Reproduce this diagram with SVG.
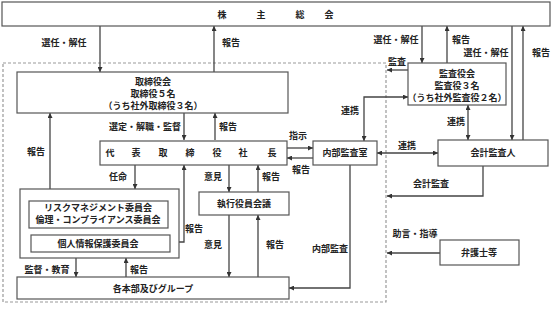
<svg xmlns="http://www.w3.org/2000/svg" width="552" height="312" viewBox="0 0 552 312">
<defs>
<style>
.box{fill:#fff;stroke:#555;stroke-width:1.2}
.ln{fill:none;stroke:#444;stroke-width:1.3}
.ar{marker-end:url(#ah)}
.ar2{marker-start:url(#ah);marker-end:url(#ah)}
.dash{fill:none;stroke:#999;stroke-width:1.2;stroke-dasharray:3 2}
text{font-family:"Noto Sans CJK JP","Noto Sans",sans-serif;font-size:9px;font-weight:bold;fill:#222;text-anchor:middle}
</style>
<marker id="ah" viewBox="0 0 6 6" refX="6" refY="3" markerWidth="5" markerHeight="5" markerUnits="userSpaceOnUse" orient="auto-start-reverse">
<path d="M0,0 L6,3 L0,6 z" fill="#333"/>
</marker>
</defs>
<rect width="552" height="312" fill="#fff"/>

<path class="dash" d="M3,63 H386 V302 H3 Z"/>

<g id="connectors">
<line class="ln ar" x1="100" y1="26" x2="100" y2="72"/>
<line class="ln ar" x1="214" y1="72" x2="214" y2="26"/>
<line class="ln ar" x1="50" y1="200" x2="50" y2="113"/>
<line class="ln ar" x1="184" y1="113" x2="184" y2="140"/>
<line class="ln ar" x1="215" y1="140" x2="215" y2="113"/>
<line class="ln ar" x1="287" y1="148" x2="313" y2="148"/>
<line class="ln ar" x1="313" y1="158" x2="287" y2="158"/>
<path class="ln ar2" d="M408,97 H364 V141"/>
<line class="ln ar" x1="408" y1="70" x2="387" y2="70"/>
<line class="ln ar" x1="422" y1="26" x2="422" y2="63"/>
<line class="ln ar" x1="447" y1="63" x2="447" y2="26"/>
<line class="ln ar" x1="512" y1="26" x2="512" y2="140"/>
<line class="ln ar" x1="523" y1="140" x2="523" y2="26"/>
<line class="ln ar2" x1="468" y1="105" x2="468" y2="140"/>
<line class="ln ar2" x1="377" y1="153" x2="438" y2="153"/>
<path class="ln ar" d="M483,166 V196 H387"/>
<line class="ln ar" x1="440" y1="253" x2="387" y2="253"/>
<path class="ln ar" d="M350,165 V288 H289"/>
<line class="ln ar" x1="135" y1="165" x2="135" y2="189"/>
<path class="ln ar" d="M170,242 H184 V165"/>
<line class="ln ar" x1="76" y1="258" x2="76" y2="277"/>
<line class="ln ar" x1="126" y1="277" x2="126" y2="258"/>
<line class="ln ar" x1="229" y1="165" x2="229" y2="192"/>
<line class="ln ar" x1="258" y1="192" x2="258" y2="165"/>
<line class="ln ar" x1="229" y1="215" x2="229" y2="277"/>
<line class="ln ar" x1="258" y1="277" x2="258" y2="215"/>

<text x="64" y="46">選任・解任</text>
<text x="231" y="46">報告</text>
<text x="36" y="155">報告</text>
<text x="145" y="130">選定・解職・監督</text>
<text x="228" y="130">報告</text>
<text x="298" y="139">指示</text>
<text x="301" y="173">報告</text>
<text x="350" y="114">連携</text>
<text x="397" y="65">監査</text>
<text x="396" y="43">選任・解任</text>
<text x="461" y="43">報告</text>
<text x="486" y="56">選任・解任</text>
<text x="541" y="56">報告</text>
<text x="456" y="125">連携</text>
<text x="407" y="149">連携</text>
<text x="431" y="187">会計監査</text>
<text x="415" y="237">助言・指導</text>
<text x="330" y="252">内部監査</text>
<text x="118" y="180">任命</text>
<text x="194" y="232">報告</text>
<text x="47" y="273">監督・教育</text>
<text x="139" y="273">報告</text>
<text x="213" y="180">意見</text>
<text x="271" y="180">報告</text>
<text x="213" y="248">意見</text>
<text x="275" y="248">報告</text>
</g>

<g id="shareholders">
<rect class="box" x="2" y="2" width="548" height="24"/>
<text x="222 261 300 329" y="18">株主総会</text>
</g>

<g id="board">
<rect class="box" x="17" y="72" width="271" height="41"/>
<text x="153" y="85">取締役会</text>
<text x="153" y="97">取締役５名</text>
<text x="153" y="109">（うち社外取締役３名）</text>
</g>

<g id="president">
<rect class="box" x="100" y="141" width="187" height="24"/>
<text x="110 136 163 190 217 243 272" y="156">代表取締役社長</text>
</g>

<g id="internal-audit">
<rect class="box" x="313" y="141" width="64" height="24"/>
<text x="345" y="156">内部監査室</text>
</g>

<g id="auditors">
<rect class="box" x="408" y="63" width="98" height="42"/>
<text x="457" y="77">監査役会</text>
<text x="457" y="89">監査役３名</text>
<text x="457" y="101">（うち社外監査役２名）</text>
</g>

<g id="accounting-auditor">
<rect class="box" x="438" y="140" width="110" height="26"/>
<text x="493" y="156">会計監査人</text>
</g>

<g id="lawyers">
<rect class="box" x="440" y="240" width="79" height="25"/>
<text x="479" y="256">弁護士等</text>
</g>

<g id="committees">
<rect class="box" x="20" y="189" width="159" height="69"/>
</g>

<g id="risk-committee">
<rect class="box" x="29" y="201" width="139" height="27"/>
<text x="98" y="211">リスクマネジメント委員会</text>
<text x="98" y="223">倫理・コンプライアンス委員会</text>
</g>

<g id="privacy-committee">
<rect class="box" x="31" y="235" width="139" height="17"/>
<text x="98" y="247">個人情報保護委員会</text>
</g>

<g id="exec-meeting">
<rect class="box" x="199" y="192" width="90" height="23"/>
<text x="244" y="207">執行役員会議</text>
</g>

<g id="departments">
<rect class="box" x="17" y="277" width="272" height="22"/>
<text x="153" y="292">各本部及びグループ</text>
</g>
</svg>
